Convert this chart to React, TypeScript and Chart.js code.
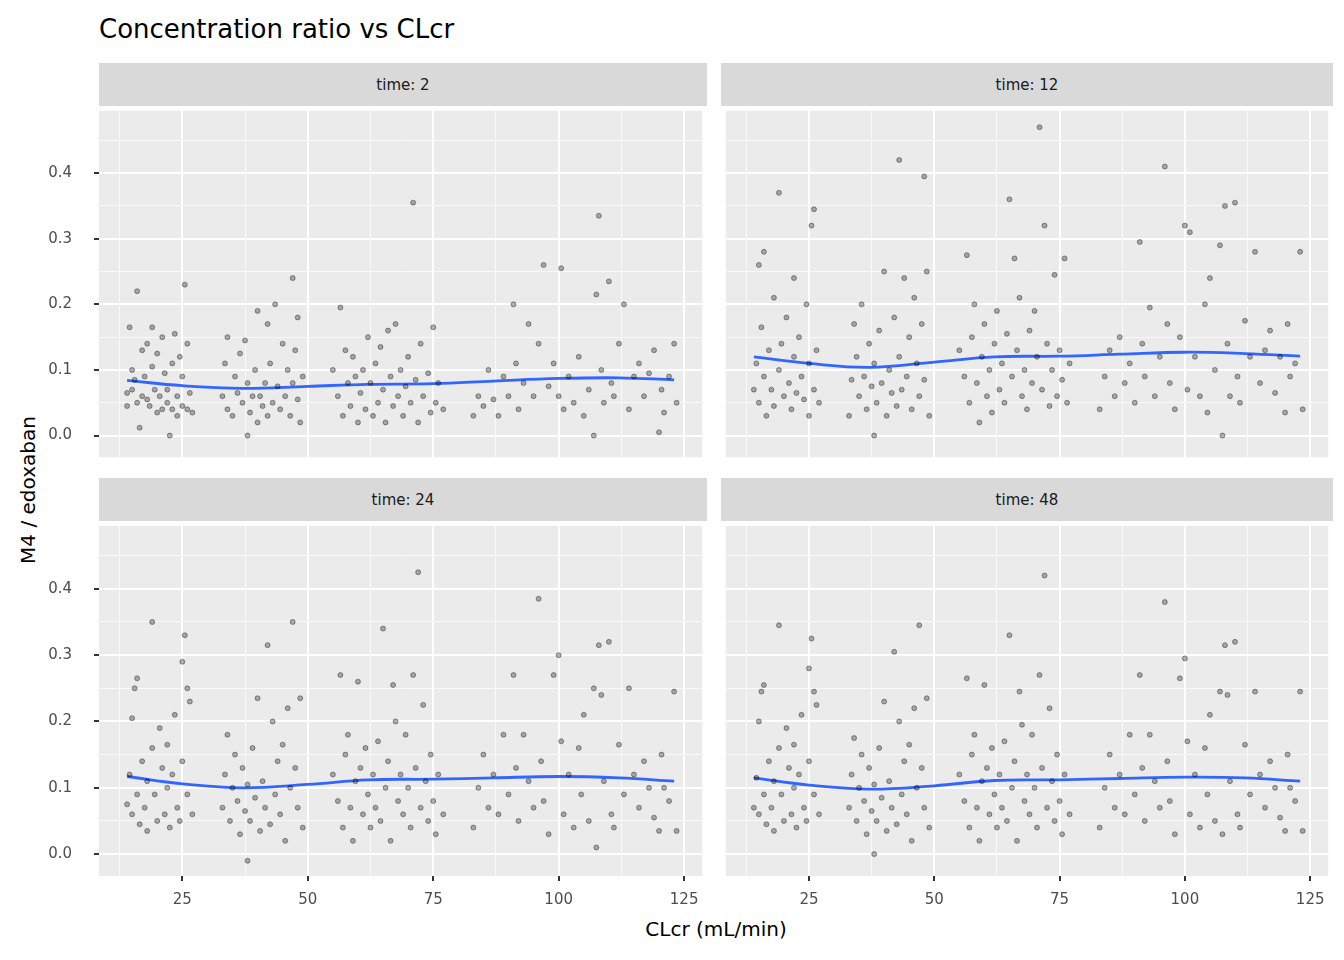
import React, { useEffect, useRef } from "react";
import { Chart, registerables } from "chart.js";
Chart.register(...registerables);

type P = [number, number];
const t2: P[] = [[14,0.045],[14,0.065],[14.5,0.165],[15,0.1],[15,0.07],[15.5,0.085],[16,0.22],[16,0.05],[16.5,0.012],[17,0.06],[17,0.13],[17.5,0.09],[18,0.055],[18,0.14],[18.5,0.045],[19,0.105],[19,0.165],[19.5,0.07],[20,0.035],[20,0.125],[20.5,0.06],[21,0.15],[21,0.04],[21.5,0.095],[22,0.05],[22,0.07],[22.5,0.0],[23,0.04],[23,0.11],[23.5,0.155],[24,0.03],[24,0.06],[24.5,0.12],[25,0.045],[25,0.09],[25.5,0.23],[26,0.04],[26,0.14],[26.5,0.065],[27,0.035],
[33,0.06],[33.5,0.11],[34,0.04],[34,0.15],[35,0.03],[35.5,0.09],[36,0.065],[36.5,0.125],[37,0.05],[37.5,0.145],[38,0.0],[38,0.08],[38.5,0.035],[39,0.06],[39.5,0.1],[40,0.02],[40,0.19],[40.5,0.06],[41,0.045],[41.5,0.08],[42,0.17],[42,0.03],[42.5,0.11],[43,0.05],[43.5,0.2],[44,0.075],[44.5,0.04],[45,0.14],[45.5,0.06],[46,0.1],[46.5,0.03],[47,0.24],[47,0.08],[47.5,0.13],[48,0.055],[48,0.18],[48.5,0.02],[49,0.09],
[55,0.1],[56,0.06],[56.5,0.195],[57,0.03],[57.5,0.13],[58,0.08],[58.5,0.045],[59,0.12],[59.5,0.09],[60,0.02],[60.5,0.065],[61,0.1],[61.5,0.04],[62,0.15],[62.5,0.08],[63,0.03],[63.5,0.11],[64,0.05],[64.5,0.135],[65,0.07],[65.5,0.02],[66,0.16],[66.5,0.09],[67,0.045],[67.5,0.17],[68,0.06],[68.5,0.1],[69,0.03],[69.5,0.075],[70,0.12],[70.5,0.05],[71,0.355],[71.5,0.085],[72,0.02],[72.5,0.14],[73,0.06],[74,0.095],[74.5,0.035],[75,0.165],[75.5,0.05],[76,0.08],[77,0.04],
[83,0.03],[84,0.06],[85,0.045],[86,0.1],[87,0.055],[88,0.03],[89,0.09],[90,0.06],[91,0.2],[91.5,0.11],[92,0.04],[93,0.08],[94,0.17],[95,0.06],[96,0.14],[97,0.26],[98,0.075],[99,0.11],[100,0.06],[100.5,0.255],[101,0.04],[102,0.09],[103,0.05],[104,0.12],[105,0.03],[106,0.07],[107,0.0],[107.5,0.215],[108,0.335],[108.5,0.1],[109,0.05],[110,0.235],[110.5,0.08],[111,0.06],[112,0.14],[113,0.2],[114,0.04],[115,0.09],[116,0.11],[117,0.06],[118,0.095],[119,0.13],[120,0.005],[120.5,0.07],[121,0.035],[122,0.09],[123,0.14],[123.5,0.05]];

const t12: P[] = [[14,0.07],[14.5,0.11],[15,0.26],[15,0.05],[15.5,0.165],[16,0.28],[16,0.09],[16.5,0.03],[17,0.13],[17.5,0.07],[18,0.21],[18,0.045],[19,0.37],[19,0.1],[19.5,0.14],[20,0.06],[20.5,0.18],[21,0.08],[21.5,0.04],[22,0.24],[22,0.12],[22.5,0.065],[23,0.15],[23.5,0.09],[24,0.055],[24.5,0.2],[25,0.11],[25,0.03],[25.5,0.32],[26,0.345],[26,0.07],[26.5,0.13],[27,0.05],
[33,0.03],[33.5,0.085],[34,0.17],[34.5,0.12],[35,0.06],[35.5,0.2],[36,0.09],[36.5,0.04],[37,0.14],[37.5,0.075],[38,0.0],[38,0.11],[38.5,0.05],[39,0.16],[39.5,0.08],[40,0.25],[40.5,0.03],[41,0.1],[41.5,0.065],[42,0.18],[42.5,0.045],[43,0.42],[43,0.12],[43.5,0.07],[44,0.24],[44.5,0.09],[45,0.15],[45.5,0.04],[46,0.21],[46.5,0.11],[47,0.06],[47.5,0.17],[48,0.395],[48,0.085],[48.5,0.25],[49,0.03],
[55,0.13],[56,0.09],[56.5,0.275],[57,0.05],[57.5,0.15],[58,0.2],[58.5,0.08],[59,0.02],[59.5,0.12],[60,0.17],[60.5,0.06],[61,0.1],[61.5,0.035],[62,0.14],[62.5,0.19],[63,0.07],[63.5,0.11],[64,0.05],[64.5,0.155],[65,0.36],[65.5,0.09],[66,0.27],[66.5,0.13],[67,0.21],[67.5,0.06],[68,0.1],[68.5,0.04],[69,0.16],[69.5,0.08],[70,0.19],[70.5,0.12],[71,0.47],[71.5,0.07],[72,0.32],[72.5,0.14],[73,0.045],[73.5,0.1],[74,0.245],[74.5,0.06],[75,0.13],[75.5,0.085],[76,0.27],[76.5,0.05],[77,0.11],
[83,0.04],[84,0.09],[85,0.13],[86,0.06],[87,0.15],[88,0.08],[89,0.11],[90,0.05],[91,0.295],[91.5,0.14],[92,0.09],[93,0.195],[94,0.06],[95,0.12],[96,0.41],[96.5,0.17],[97,0.08],[98,0.04],[99,0.15],[100,0.32],[100.5,0.07],[101,0.31],[102,0.12],[103,0.06],[104,0.2],[104.5,0.035],[105,0.24],[106,0.1],[107,0.29],[107.5,0.0],[108,0.35],[108.5,0.14],[109,0.06],[110,0.355],[110.5,0.09],[111,0.05],[112,0.175],[113,0.12],[114,0.28],[115,0.08],[116,0.13],[117,0.16],[118,0.065],[119,0.12],[120,0.035],[120.5,0.17],[121,0.09],[122,0.11],[123,0.28],[123.5,0.04]];

const t24: P[] = [[14,0.075],[14.5,0.12],[15,0.205],[15,0.06],[15.5,0.25],[16,0.265],[16,0.09],[16.5,0.045],[17,0.14],[17.5,0.07],[18,0.11],[18,0.035],[19,0.35],[19,0.16],[19.5,0.09],[20,0.05],[20.5,0.19],[21,0.13],[21.5,0.06],[22,0.1],[22,0.165],[22.5,0.04],[23,0.12],[23.5,0.21],[24,0.07],[24.5,0.05],[25,0.29],[25,0.14],[25.5,0.33],[26,0.25],[26,0.09],[26.5,0.23],[27,0.06],
[33,0.07],[33.5,0.12],[34,0.18],[34.5,0.05],[35,0.1],[35.5,0.15],[36,0.08],[36.5,0.03],[37,0.13],[37.5,0.065],[38,-0.01],[38,0.105],[38.5,0.05],[39,0.16],[39.5,0.085],[40,0.235],[40.5,0.035],[41,0.11],[41.5,0.07],[42,0.315],[42.5,0.045],[43,0.2],[43.5,0.09],[44,0.14],[44.5,0.06],[45,0.165],[45.5,0.02],[46,0.22],[46.5,0.1],[47,0.35],[47.5,0.13],[48,0.07],[48.5,0.235],[49,0.04],
[55,0.12],[56,0.08],[56.5,0.27],[57,0.04],[57.5,0.15],[58,0.18],[58.5,0.07],[59,0.02],[59.5,0.11],[60,0.26],[60.5,0.13],[61,0.06],[61.5,0.16],[62,0.09],[62.5,0.04],[63,0.12],[63.5,0.07],[64,0.17],[64.5,0.05],[65,0.34],[65.5,0.1],[66,0.14],[66.5,0.02],[67,0.255],[67.5,0.2],[68,0.08],[68.5,0.12],[69,0.06],[69.5,0.18],[70,0.1],[70.5,0.04],[71,0.27],[71.5,0.13],[72,0.425],[72.5,0.07],[73,0.225],[73.5,0.11],[74,0.05],[74.5,0.15],[75,0.08],[75.5,0.03],[76,0.12],[77,0.06],
[83,0.04],[84,0.1],[85,0.15],[86,0.07],[87,0.12],[88,0.06],[89,0.18],[90,0.09],[91,0.27],[91.5,0.13],[92,0.05],[93,0.18],[94,0.11],[95,0.07],[96,0.385],[96.5,0.14],[97,0.08],[98,0.03],[99,0.27],[100,0.3],[100.5,0.17],[101,0.06],[102,0.12],[103,0.04],[104,0.16],[104.5,0.09],[105,0.21],[106,0.05],[107,0.25],[107.5,0.01],[108,0.315],[108.5,0.24],[109,0.11],[110,0.32],[110.5,0.06],[111,0.04],[112,0.165],[113,0.09],[114,0.25],[115,0.12],[116,0.07],[117,0.14],[118,0.1],[119,0.055],[120,0.035],[120.5,0.15],[121,0.1],[122,0.08],[123,0.245],[123.5,0.035]];

const t48: P[] = [[14,0.07],[14.5,0.115],[15,0.2],[15,0.06],[15.5,0.245],[16,0.255],[16,0.09],[16.5,0.045],[17,0.14],[17.5,0.07],[18,0.11],[18,0.035],[19,0.345],[19,0.16],[19.5,0.09],[20,0.05],[20.5,0.19],[21,0.13],[21.5,0.06],[22,0.1],[22,0.165],[22.5,0.04],[23,0.12],[23.5,0.21],[24,0.07],[24.5,0.05],[25,0.28],[25,0.14],[25.5,0.325],[26,0.245],[26,0.09],[26.5,0.225],[27,0.06],
[33,0.07],[33.5,0.12],[34,0.175],[34.5,0.05],[35,0.1],[35.5,0.15],[36,0.08],[36.5,0.03],[37,0.13],[37.5,0.065],[38,0.0],[38,0.105],[38.5,0.05],[39,0.16],[39.5,0.085],[40,0.23],[40.5,0.035],[41,0.11],[41.5,0.07],[42,0.305],[42.5,0.045],[43,0.2],[43.5,0.09],[44,0.14],[44.5,0.06],[45,0.165],[45.5,0.02],[46,0.22],[46.5,0.1],[47,0.345],[47.5,0.13],[48,0.07],[48.5,0.235],[49,0.04],
[55,0.12],[56,0.08],[56.5,0.265],[57,0.04],[57.5,0.15],[58,0.18],[58.5,0.07],[59,0.02],[59.5,0.11],[60,0.255],[60.5,0.13],[61,0.06],[61.5,0.16],[62,0.09],[62.5,0.04],[63,0.12],[63.5,0.07],[64,0.17],[64.5,0.05],[65,0.33],[65.5,0.1],[66,0.14],[66.5,0.02],[67,0.245],[67.5,0.195],[68,0.08],[68.5,0.12],[69,0.06],[69.5,0.18],[70,0.1],[70.5,0.04],[71,0.27],[71.5,0.13],[72,0.42],[72.5,0.07],[73,0.22],[73.5,0.11],[74,0.05],[74.5,0.15],[75,0.08],[75.5,0.03],[76,0.12],[77,0.06],
[83,0.04],[84,0.1],[85,0.15],[86,0.07],[87,0.12],[88,0.06],[89,0.18],[90,0.09],[91,0.27],[91.5,0.13],[92,0.05],[93,0.18],[94,0.11],[95,0.07],[96,0.38],[96.5,0.14],[97,0.08],[98,0.03],[99,0.265],[100,0.295],[100.5,0.17],[101,0.06],[102,0.12],[103,0.04],[104,0.16],[104.5,0.09],[105,0.21],[106,0.05],[107,0.245],[107.5,0.03],[108,0.315],[108.5,0.24],[109,0.11],[110,0.32],[110.5,0.06],[111,0.04],[112,0.165],[113,0.09],[114,0.245],[115,0.12],[116,0.07],[117,0.14],[118,0.1],[119,0.055],[120,0.035],[120.5,0.15],[121,0.1],[122,0.08],[123,0.245],[123.5,0.035]];

const smoothX = [14, 25, 37, 50, 62, 75, 87, 100, 112, 123];
const smooth2 = [0.084, 0.076, 0.072, 0.075, 0.078, 0.079, 0.083, 0.087, 0.088, 0.085];
const smooth12 = [0.12, 0.11, 0.104, 0.112, 0.12, 0.121, 0.124, 0.127, 0.125, 0.121];
const smooth24 = [0.117, 0.106, 0.1, 0.105, 0.112, 0.113, 0.115, 0.117, 0.115, 0.11];
const smooth48 = [0.115, 0.104, 0.098, 0.103, 0.111, 0.112, 0.114, 0.116, 0.115, 0.11];

const xTicks = [12.5, 25, 37.5, 50, 62.5, 75, 87.5, 100, 112.5, 125];
const xMajor = [25, 50, 75, 100, 125];
const yTicks = [0, 0.05, 0.1, 0.15, 0.2, 0.25, 0.3, 0.35, 0.4, 0.45];
const FONT = "'DejaVu Sans', sans-serif";

const bgPlugin = {
  id: "bg",
  beforeDraw(c: any) {
    const a = c.chartArea;
    c.ctx.save();
    c.ctx.fillStyle = "#EBEBEB";
    c.ctx.fillRect(a.left, a.top, a.right - a.left, a.bottom - a.top);
    c.ctx.restore();
  },
};

const zeroPad = (s: any) => { s.paddingTop = 0; s.paddingBottom = 0; s.paddingLeft = 0; s.paddingRight = 0; };

function Panel({ pts, sm, left, top, w, h, showY, showX }: any) {
  const ref = useRef<HTMLCanvasElement>(null);
  useEffect(() => {
    const isMajorX = (v: number) => xMajor.includes(v);
    const isMajorY = (v: number) => Math.abs(v * 10 - Math.round(v * 10)) < 1e-6;
    const chart = new Chart(ref.current!, {
      type: "scatter",
      data: {
        datasets: [
          { data: pts.map((p: P) => ({ x: p[0], y: p[1] })), pointRadius: 2.5, pointBorderWidth: 0.8,
            pointBackgroundColor: "rgba(0,0,0,0.3)", pointBorderColor: "rgba(0,0,0,0.45)" },
          { type: "line", data: smoothX.map((x, i) => ({ x, y: sm[i] })), borderColor: "#3366FF",
            borderWidth: 2.8, pointRadius: 0, tension: 0.4, showLine: true } as any,
        ],
      },
      options: {
        animation: false, responsive: false, maintainAspectRatio: false,
        layout: { padding: 0 },
        plugins: { legend: { display: false }, tooltip: { enabled: false } },
        scales: {
          x: {
            type: "linear", min: 8.4, max: 128.6,
            afterBuildTicks: (s: any) => { s.ticks = xTicks.map((v) => ({ value: v })); },
            afterFit: (s: any) => { s.height = showX ? 36 : 0; zeroPad(s); },
            border: { display: false },
            grid: {
              color: (c: any) => (isMajorX(c.tick?.value) ? "#FFFFFF" : "rgba(255,255,255,0.7)"),
              lineWidth: (c: any) => (isMajorX(c.tick?.value) ? 2 : 1),
              tickColor: (c: any) => (showX && isMajorX(c.tick?.value) ? "#333333" : "rgba(0,0,0,0)"),
              tickLength: showX ? 5 : 0,
            },
            ticks: {
              display: showX, autoSkip: false, maxRotation: 0, padding: 10,
              color: "#4D4D4D", font: { family: FONT, size: 15 },
              callback: (v: any) => (isMajorX(Number(v)) ? String(v) : ""),
            },
          },
          y: {
            min: -0.033, max: 0.495,
            afterBuildTicks: (s: any) => { s.ticks = yTicks.map((v) => ({ value: v })); },
            afterFit: (s: any) => { s.width = showY ? 59 : 0; zeroPad(s); },
            border: { display: false },
            grid: {
              color: (c: any) => (isMajorY(c.tick?.value) ? "#FFFFFF" : "rgba(255,255,255,0.7)"),
              lineWidth: (c: any) => (isMajorY(c.tick?.value) ? 2 : 1),
              tickColor: (c: any) => (showY && isMajorY(c.tick?.value) && c.tick?.value < 0.45 ? "#333333" : "rgba(0,0,0,0)"),
              tickLength: showY ? 5 : 0,
            },
            ticks: {
              display: showY, autoSkip: false, padding: 22,
              color: "#4D4D4D", font: { family: FONT, size: 15 },
              callback: (v: any) => { const n = Number(v); return isMajorY(n) && n < 0.45 ? n.toFixed(1) : ""; },
            },
          },
        },
      },
      plugins: [bgPlugin],
    });
    return () => chart.destroy();
  }, []);
  return <canvas ref={ref} width={w} height={h} style={{ position: "absolute", left, top, width: w, height: h }} />;
}

function Strip({ label, left, top, w }: any) {
  return (
    <div style={{ position: "absolute", left, top, width: w, height: 43, background: "#D9D9D9", color: "#1A1A1A",
      fontFamily: FONT, fontSize: 15, display: "flex", alignItems: "center", justifyContent: "center" }}>{label}</div>
  );
}

export default function App() {
  return (
    <div style={{ position: "absolute", left: 0, top: 0, width: 1344, height: 960, background: "#fff", fontFamily: FONT }}>
      <div style={{ position: "absolute", left: 99, top: 14, fontSize: 26, color: "#000" }}>Concentration ratio vs CLcr</div>
      <Strip label="time: 2" left={99} top={63} w={608} />
      <Strip label="time: 12" left={721} top={63} w={612} />
      <Strip label="time: 24" left={99} top={478} w={608} />
      <Strip label="time: 48" left={721} top={478} w={612} />
      <Panel pts={t2} sm={smooth2} left={40} top={106} w={667} h={356} showY={true} showX={false} />
      <Panel pts={t12} sm={smooth12} left={721} top={106} w={612} h={356} showY={false} showX={false} />
      <Panel pts={t24} sm={smooth24} left={40} top={521} w={667} h={391} showY={true} showX={true} />
      <Panel pts={t48} sm={smooth48} left={721} top={521} w={612} h={391} showY={false} showX={true} />
      <div style={{ position: "absolute", left: 0, width: 1432, top: 917, textAlign: "center", fontSize: 20, color: "#000" }}>CLcr (mL/min)</div>
      <div style={{ position: "absolute", left: 28, top: 490, fontSize: 20, color: "#000", whiteSpace: "nowrap",
        transform: "translate(-50%,-50%) rotate(-90deg)" }}>M4 / edoxaban</div>
    </div>
  );
}
